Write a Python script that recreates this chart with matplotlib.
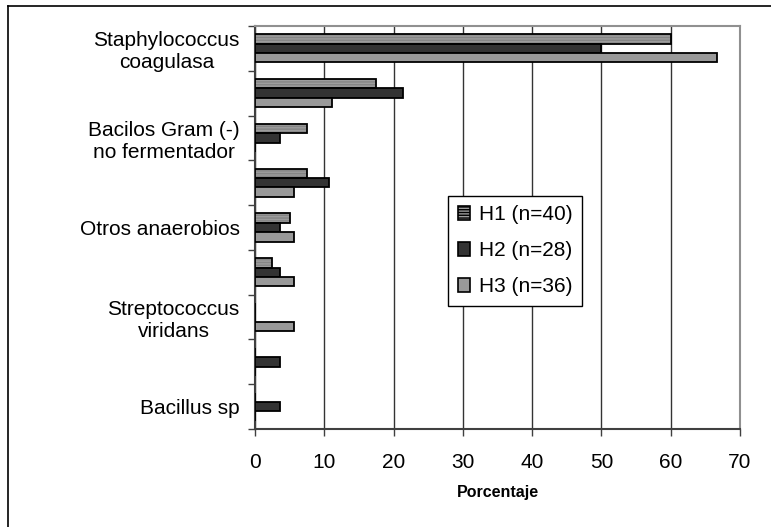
import numpy as np
import matplotlib
matplotlib.use("Agg")
import matplotlib.pyplot as plt
from matplotlib.lines import Line2D
from matplotlib.patches import Patch

# ---------------- data ----------------
categorias = ["Staphylococcus\ncoagulasa", "", "Bacilos Gram (-)\nno fermentador", "",
              "Otros anaerobios", "", "Streptococcus\nviridans", "", "Bacillus sp"]
h1 = [60.0, 17.5, 7.5, 7.5, 5.0, 2.5, 0.0, 0.0, 0.0]
h2 = [50.0, 21.4, 3.6, 10.7, 3.6, 3.6, 0.0, 3.6, 3.6]
h3 = [66.7, 11.1, 0.0, 5.6, 5.6, 5.6, 5.6, 0.0, 0.0]
series = ["H1 (n=40)", "H2 (n=28)", "H3 (n=36)"]
xticks = [0, 10, 20, 30, 40, 50, 60, 70]

plt.rcParams['font.family'] = ['Liberation Sans', 'DejaVu Sans']

fig = plt.figure(figsize=(7.71, 5.27), dpi=100)
ax = fig.add_axes([255 / 771, 1 - 429 / 527, 485 / 771, 403 / 527])

n = len(categorias)
y = np.arange(n)
alto = 0.21
col_h1, col_h2, col_h3 = '#9c9c9c', '#333333', '#999999'

# H1 con textura de rayas finas
ax.barh(y - alto, h1, height=alto, color=col_h1, edgecolor='#858585', hatch='------',
        linewidth=0, zorder=3)
ax.barh(y - alto, h1, height=alto, fill=False, edgecolor='black', linewidth=1.3, zorder=4)
ax.barh(y, h2, height=alto, color=col_h2, edgecolor='black', linewidth=1.3, zorder=3)
ax.barh(y + alto, h3, height=alto, color=col_h3, edgecolor='black', linewidth=1.3, zorder=3)

ax.set_ylim(n - 0.5, -0.5)
ax.set_xlim(0, 70)
ax.set_xticks(xticks)
ax.set_yticks(y)
ax.set_yticklabels(categorias, multialignment='center')
ax.set_yticks(np.arange(n + 1) - 0.5, minor=True)
ax.tick_params(axis='y', which='major', length=0, pad=11, labelsize=15)
ax.tick_params(axis='y', which='minor', length=5, width=1, color='#404040')
ax.tick_params(axis='x', length=5, width=1, color='#404040', pad=12, labelsize=15)

ax.grid(axis='x', color='#333333', linewidth=1, zorder=0)
ax.set_axisbelow(True)
for lado in ['left', 'bottom']:
    ax.spines[lado].set_color('#404040')
    ax.spines[lado].set_linewidth(1.5)
for lado in ['top', 'right']:
    ax.spines[lado].set_color('#909090')
    ax.spines[lado].set_linewidth(1.5)

ax.set_xlabel('Porcentaje', fontsize=11.5, fontweight='bold', labelpad=10)

handles = [Patch(facecolor=col_h1, edgecolor='black', hatch='------', linewidth=1.2),
           Patch(facecolor=col_h2, edgecolor='black', linewidth=1.2),
           Patch(facecolor=col_h3, edgecolor='black', linewidth=1.2)]
leg = ax.legend(handles, series, loc='center', bbox_to_anchor=(0.536, 0.442),
                fontsize=15, frameon=True, fancybox=False, framealpha=1,
                edgecolor='black', handlelength=0.6, handleheight=0.6,
                handletextpad=0.4, labelspacing=0.82, borderpad=0.45)
leg.get_frame().set_linewidth(1)
leg.set_zorder(5)

# marco de la figura
fig.add_artist(Line2D([8 / 771, 8 / 771], [0, 1 - 6 / 527], color='black', linewidth=1.2))
fig.add_artist(Line2D([8 / 771, 1], [1 - 6 / 527, 1 - 6 / 527], color='black', linewidth=1.2))

fig.savefig('out.png', dpi=100)
